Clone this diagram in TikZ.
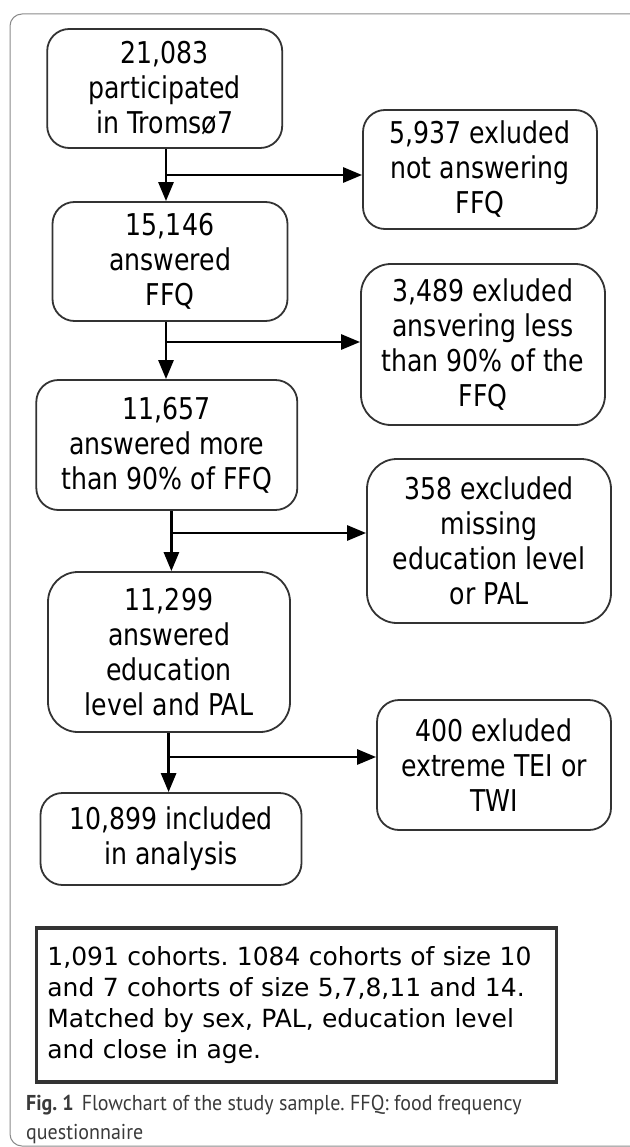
\documentclass[tikz,border=0pt]{standalone}
\usepackage{fontspec}
\setmainfont{DejaVu Sans}
\newfontfamily\boxfont{DejaVu Sans}[FakeStretch=0.84]
\newfontfamily\notefont{DejaVu Sans}
\newfontfamily\capfont{PT Sans}[FakeStretch=0.93]
\usetikzlibrary{arrows.meta}
\frenchspacing
\definecolor{bord}{HTML}{333333}
\definecolor{frame}{HTML}{8A8A8A}
\definecolor{captxt}{HTML}{3A3A3A}
\tikzset{
  flowbox/.style={draw=bord, line width=1.8pt, rounded corners=22pt, align=center,
    inner sep=0pt, font=\boxfont\fontsize{30}{35}\selectfont},
  arr/.style={line width=2.8pt, -{Triangle[length=19pt,width=15pt]}},
  notebox/.style={draw=bord, line width=3.5pt, align=left, inner ysep=0pt, inner xsep=11pt,
    font=\notefont\fontsize{25}{31}\selectfont},
  captext/.style={anchor=base west, inner sep=0pt, text=captxt,
    font=\capfont\fontsize{21.5}{29}\selectfont}
}
\begin{document}
\begin{tikzpicture}[x=1pt,y=-1pt]
\useasboundingbox (0,0) rectangle (629,1147);
\draw[frame, line width=1pt, rounded corners=12pt] (10,14) rectangle (680,1146);

\node[flowbox, minimum width=235pt, minimum height=119pt] (b1) at (164.7,88.5) {21,083\\participated\\in Tromsø7};
\node[flowbox, minimum width=234pt, minimum height=119pt] (e1) at (480,169.5) {5,937 exluded\\not answering\\FFQ};
\node[flowbox, minimum width=235pt, minimum height=119pt] (b2) at (170,261.5) {15,146\\answered\\FFQ};
\node[flowbox, minimum width=244pt, minimum height=161pt, rounded corners=30pt] (e2) at (483,344.5) {3,489 exluded\\ansvering less\\than 90\% of the\\FFQ};
\node[flowbox, minimum width=261pt, minimum height=130pt] (b3) at (166.8,445) {11,657\\answered more\\than 90\% of FFQ};
\node[flowbox, minimum width=244pt, minimum height=164pt, rounded corners=30pt] (e3) at (489,541) {358 excluded\\missing\\education level\\or PAL};
\node[flowbox, minimum width=242pt, minimum height=160pt, rounded corners=30pt] (b4) at (169,652) {11,299\\answered\\education\\level and PAL};
\node[flowbox, minimum width=234pt, minimum height=130pt] (e4) at (494,765) {400 exluded\\extreme TEI or\\TWI};
\node[flowbox, minimum width=261pt, minimum height=92pt] (b5) at (171,839) {10,899 included\\in analysis};

\node[notebox, minimum width=520pt, minimum height=154pt, text width=498pt] (note) at (296.4,1005)
  {1,091 cohorts. 1084 cohorts of size 10\\and 7 cohorts of size 5,7,8,11 and 14.\\Matched by sex, PAL, education level\\and close in age.};

\node[captext] (cap1) at (26,1110) {\textbf{Fig. 1}\hspace{8pt}Flowchart of the study sample. FFQ: food frequency};
\node[captext] (cap2) at (26,1139) {questionnaire};

% connectors
\coordinate (j1) at (166,175);
\draw[arr] (b1.south -| j1) -- (b2.north -| j1);
\draw[arr] (j1) -- (e1.west |- j1);

\coordinate (j2) at (166,342);
\draw[arr] (b2.south -| j2) -- (b3.north -| j2);
\draw[arr] (j2) -- (e2.west |- j2);

\coordinate (j3) at (171.4,533);
\draw[arr] (b3.south -| j3) -- (b4.north -| j3);
\draw[arr] (j3) -- (e3.west |- j3);

\coordinate (j4) at (168.6,757);
\draw[arr] (b4.south -| j4) -- (b5.north -| j4);
\draw[arr] (j4) -- (e4.west |- j4);
\end{tikzpicture}
\end{document}
